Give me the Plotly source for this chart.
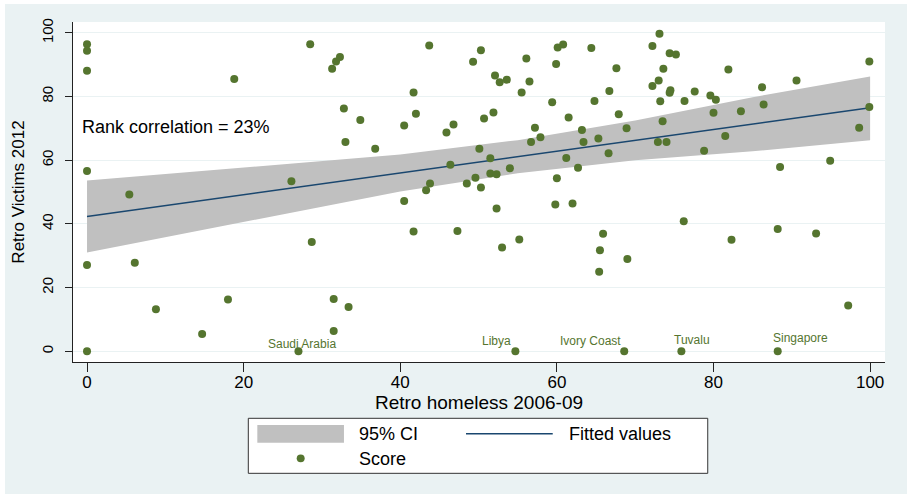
import plotly.graph_objects as go

# Scatter data: Retro homeless 2006-09 (x) vs Retro Victims 2012 (y)
homeless = [
    0, 0, 0, 0, 0, 0, 5.4, 6.1, 8.8, 14.7, 18.0, 18.8, 26.1, 27.0, 28.5, 28.7,
    31.3, 31.8, 32.3, 32.8, 33.0, 31.5, 31.5, 33.4, 34.9, 36.8, 40.5, 40.5,
    41.7, 42.0, 41.7, 43.7, 43.8, 43.3, 45.9, 46.8, 46.4, 47.3, 48.5, 49.3,
    49.6, 50.1, 50.3, 50.3, 50.7, 51.5, 51.5, 51.9, 52.1, 52.3, 52.3, 52.7,
    53.0, 53.6, 54.0, 54.7, 55.2, 55.5, 56.1, 56.5, 56.7, 57.2, 57.9, 59.4,
    59.8, 59.9, 60.0, 60.1, 60.8, 61.2, 61.5, 62.0, 62.7, 63.2, 63.4, 64.4,
    64.8, 65.3, 65.4, 65.5, 65.9, 66.6, 66.7, 67.6, 67.9, 68.6, 68.9, 69.0,
    72.2, 72.2, 72.9, 73.0, 73.1, 73.2, 73.5, 73.6, 74.0, 74.4, 74.4, 74.5,
    75.2, 75.9, 76.2, 76.3, 77.6, 78.8, 79.6, 80.0, 80.3, 81.5, 81.9, 82.3,
    83.5, 86.2, 86.4, 88.2, 88.2, 88.5, 90.6, 93.1, 94.9, 97.2, 98.6, 99.9,
    99.9,
]
victims = [
    96.4, 94.4, 88.1, 56.6, 27.1, 0, 49.2, 27.8, 13.2, 5.4, 16.3, 85.5, 53.4, 0, 96.4, 34.3,
    88.7, 91.0, 92.4, 76.2, 65.7, 16.4, 6.4, 13.9, 72.6, 63.6, 70.9, 47.2,
    81.3, 74.6, 37.6, 96.0, 52.7, 50.6, 68.7, 71.2, 58.6, 37.8, 52.7, 90.9,
    54.5, 63.6, 94.5, 51.4, 73.1, 60.6, 55.8, 75.0, 86.6, 55.6, 44.8, 84.5,
    32.6, 85.3, 57.5, 0, 35.1, 81.3, 91.9, 84.7, 65.7, 70.2, 67.2, 78.2,
    46.1, 90.2, 54.3, 95.4, 96.3, 60.7, 73.4, 46.4, 57.6, 69.5, 65.7, 95.2,
    78.6, 66.8, 25.0, 31.7, 36.9, 62.2, 81.7, 88.9, 74.4, 0, 70.0, 29.0,
    95.9, 83.3, 65.7, 85.0, 99.7, 78.5, 72.2, 88.7, 65.7, 93.6, 81.2, 82.0,
    93.2, 0, 40.8, 78.6, 81.6, 63.0, 80.3, 74.9, 79.0, 67.6, 88.5, 35.0,
    75.4, 82.9, 77.5, 38.4, 0, 57.9, 85.0, 37.0, 59.8, 14.4, 70.2, 91.0,
    76.7,
]

# Fitted values and 95% CI
fit_x = [0, 20, 40, 55, 70, 85, 100]
fitted = [42.3, 49.1, 56.0, 61.1, 66.2, 71.4, 76.5]
ci_low = [31.0, 40.6, 50.2, 55.9, 60.0, 62.8, 66.3]
ci_high = [53.6, 57.6, 61.8, 66.3, 72.5, 79.8, 86.3]

# Labelled countries (all at zero victims)
label_names = ["Saudi Arabia", "Libya", "Ivory Coast", "Tuvalu", "Singapore"]
label_x = [27.0, 54.7, 68.6, 75.9, 88.2]
label_y = [0, 0, 0, 0, 0]

rank_corr = 23

GREEN = "#55752F"
NAVY = "#1A476F"
BAND = "#C0C0C0"
BG = "#EAF2F3"
FONT = "Liberation Sans, Arial, sans-serif"

fig = go.Figure()

# CI band
fig.add_trace(go.Scatter(
    x=fit_x + fit_x[::-1],
    y=ci_high + ci_low[::-1],
    fill="toself", fillcolor=BAND, line=dict(width=0),
    mode="lines", name="95% CI", hoverinfo="skip",
))
fig.add_trace(go.Scatter(
    x=fit_x, y=fitted, mode="lines",
    line=dict(color=NAVY, width=1.5), name="Fitted values",
))
fig.add_trace(go.Scatter(
    x=homeless, y=victims, mode="markers",
    marker=dict(color=GREEN, size=8), name="Score",
))

# country labels, offsets in px
label_shift = [(4, 7), (-19, 10), (-34, 10), (11, 11), (23, 13)]
for name, lx, ly, (dx, dy) in zip(label_names, label_x, label_y, label_shift):
    fig.add_annotation(x=lx, y=ly, text=name, showarrow=False,
                       xshift=dx, yshift=dy,
                       font=dict(size=12, color=GREEN, family=FONT))

fig.add_annotation(x=-0.95, y=70.3, xanchor="left", showarrow=False,
                   text="Rank correlation = %d%%" % rank_corr,
                   font=dict(size=18, color="black", family=FONT))

# background frame + white plot area
shapes = [
    dict(type="rect", xref="paper", yref="paper", x0=-0.0837, x1=1.03,
         y0=-0.388, y1=1.053, fillcolor=BG, line=dict(width=0), layer="below"),
    dict(type="rect", xref="paper", yref="paper", x0=0, x1=1, y0=0, y1=1,
         fillcolor="white", line=dict(width=0), layer="below"),
    # legend box
    dict(type="rect", xref="paper", yref="paper", x0=0.2159, x1=0.7817,
         y0=-0.3274, y1=-0.1656, fillcolor="white",
         line=dict(color="#333333", width=1)),
    dict(type="rect", xref="paper", yref="paper", x0=0.2270, x1=0.3337,
         y0=-0.2374, y1=-0.1853, fillcolor=BAND, line=dict(width=0)),
    dict(type="line", xref="paper", yref="paper", x0=0.4840, x1=0.5908,
         y0=-0.2109, y1=-0.2109, line=dict(color=NAVY, width=1.5)),
    dict(type="circle", xref="paper", yref="paper", x0=0.2804 - 0.0049,
         x1=0.2804 + 0.0049, y0=-0.2833 - 0.0115, y1=-0.2833 + 0.0115,
         fillcolor=GREEN, line=dict(width=0)),
]
legend_text = [("95% CI", 0.3501, -0.2126), ("Fitted values", 0.6080, -0.2126),
               ("Score", 0.3501, -0.2862)]
for txt, lx, ly in legend_text:
    fig.add_annotation(x=lx, y=ly, xref="paper", yref="paper", text=txt,
                       xanchor="left", yanchor="middle", showarrow=False,
                       font=dict(size=18, color="black", family=FONT))

fig.update_layout(
    width=907, height=495,
    margin=dict(l=73, r=22, t=22, b=133),
    paper_bgcolor="white", plot_bgcolor="white",
    showlegend=False, shapes=shapes,
    font=dict(family=FONT, color="black"),
)
fig.update_xaxes(
    range=[-1.79, 101.9], tickvals=[0, 20, 40, 60, 80, 100],
    showgrid=False, zeroline=False, showline=True, linecolor="#222222",
    ticks="outside", ticklen=9, tickcolor="#222222",
    tickfont=dict(size=17), ticklabelstandoff=-4,
    title=dict(text="Retro homeless 2006-09", font=dict(size=19), standoff=0),
)
fig.update_yaxes(
    range=[-3.36, 103.4], tickvals=[0, 20, 40, 60, 80, 100], tickangle=-90,
    showgrid=True, gridcolor=BG, gridwidth=1, zeroline=False,
    showline=True, linecolor="#222222",
    ticks="outside", ticklen=7, tickcolor="#222222",
    tickfont=dict(size=15), ticklabelstandoff=6,
    title=dict(text="Retro Victims 2012", font=dict(size=17), standoff=10),
)

# page body has an 8px default margin; drop it so the figure sits at 0,0
fig.write_html("out.html", config={"displayModeBar": False},
               post_script="document.body.style.margin='0';")
